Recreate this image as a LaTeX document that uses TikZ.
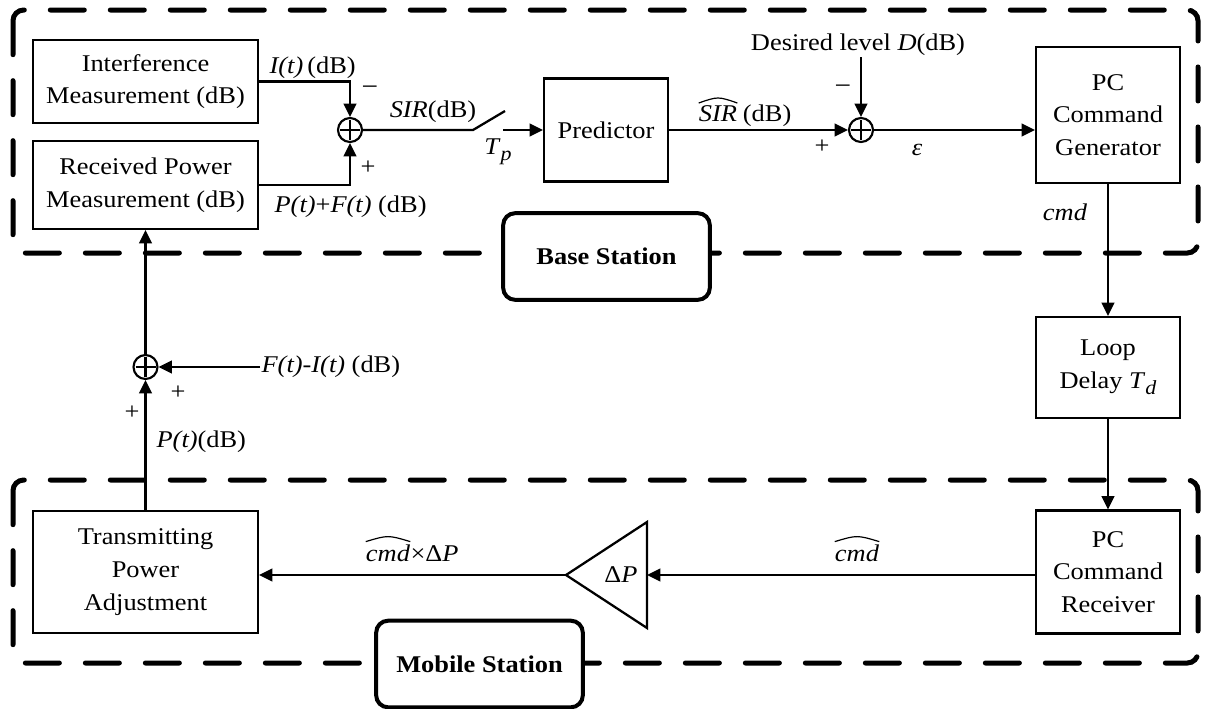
\documentclass[tikz,border=0pt]{standalone}
\usepackage{fontspec}
\setmainfont{Liberation Serif}[FakeStretch=1.1]
\usetikzlibrary{arrows.meta,calc}
\newcommand{\txtsize}{\fontsize{18}{24.5}\selectfont}
\begin{document}
\begin{tikzpicture}[x=0.75pt,y=-0.75pt,
  blk/.style={draw, line width=1.6pt, align=center, inner sep=0pt, font=\txtsize},
  lbl/.style={inner sep=1pt, font=\txtsize},
  word/.style={inner sep=0pt, font=\txtsize},
  tag/.style={draw, line width=3pt, rounded corners=9pt, fill=white,
    font=\txtsize\bfseries, inner sep=0pt, minimum width=155pt, minimum height=65pt},
  zone/.style={line width=3.75pt, dash pattern=on 25.5pt off 19.5pt,
    line cap=round, rounded corners=8pt},
  wire/.style={line width=1.7pt},
  arr/.style={wire, -{Triangle[length=10pt,width=9.5pt]}},
  hatline/.style={line width=0.9pt},
  sumnode/.style={circle, draw, line width=1.6pt, minimum size=18pt, inner sep=0pt,
    path picture={\draw[line width=1.6pt]
      ([yshift=-1.5pt]path picture bounding box.north) -- ([yshift=1.5pt]path picture bounding box.south)
      ([xshift=1.5pt]path picture bounding box.west) -- ([xshift=-1.5pt]path picture bounding box.east);}},
]
\useasboundingbox (0,0) rectangle (1210,708);

% station regions
\draw[zone] (13,10) rectangle (1198,253);
\draw[zone] (13,480) rectangle (1198,663);

% blocks
\node[blk, minimum width=168.75pt, minimum height=62.25pt] (intf) at (145.5,81.5) {Interference\\Measurement (dB)};
\node[blk, minimum width=168.75pt, minimum height=66pt] (recv) at (145.5,185) {Received Power\\Measurement (dB)};
\node[sumnode] (s1) at (350,130) {};
\node[blk, minimum width=93pt, minimum height=77.25pt] (pred) at (606,130) {Predictor};
\node[sumnode] (s2) at (861,130) {};
\node[blk, minimum width=108pt, minimum height=102pt] (gen) at (1108,115) {PC\\Command\\Generator};
\node[blk, minimum width=108pt, minimum height=75.75pt] (dly) at (1108,367.5) {Loop\\Delay \textit{T}\raisebox{-0.55ex}{\fontsize{15}{15}\selectfont\textit{d}}};
\node[blk, minimum width=108pt, minimum height=92.25pt] (rx) at (1108,572) {PC\\Command\\Receiver};
\node[blk, minimum width=168.75pt, minimum height=91.5pt] (tpa) at (145.5,572) {Transmitting\\Power\\Adjustment};
\node[sumnode] (s3) at (145.5,367) {};

% gain triangle
\coordinate (ampL) at (566,575);
\coordinate (ampR) at (647,575);
\draw[wire, line join=miter] (647,522) -- (647,628) -- (ampL) -- cycle;
\node[lbl] (dp) at (621,575) {Δ\textit{P}};

% sampling switch
\coordinate (swA) at (473,130);
\coordinate (swB) at (505,111);
\coordinate (swC) at (503,130);

% signal labels
\node[lbl, anchor=west] at (268,68) {\textit{I(t)}\,(dB)};
\node[lbl] at (370,91) {\fontsize{20}{20}\selectfont −};
\node[lbl] at (368,168) {+};
\node[lbl, anchor=west] at (273,207) {\textit{P(t)}+\textit{F(t)} (dB)};
\node[lbl] at (433,112) {\textit{SIR}(dB)};
\node[lbl] at (498,152) {\textit{T}\raisebox{-0.55ex}{\fontsize{15}{15}\selectfont\textit{p}}};
\node[word] (sirw) at (718,114) {\textit{SIR}};
\node[word, anchor=base west] (sirdb) at ([xshift=4pt]sirw.base east) {(dB)};
\draw[hatline] ([yshift=2pt]sirw.north west) .. controls ([yshift=7pt]sirw.north) .. ([yshift=2pt]sirw.north east);
\node[lbl] at (822,147) {+};
\node[lbl] at (843,90) {\fontsize{20}{20}\selectfont −};
\node[lbl] (des) at (858,45) {Desired level \textit{D}(dB)};
\node[lbl] at (917,150) {\textit{ε}};
\node[lbl] at (1065,212) {\textit{cmd}};
\node[word] (cmdr) at (857,553) {\textit{cmd}};
\draw[hatline] ([yshift=2pt]cmdr.north west) .. controls ([yshift=7pt]cmdr.north) .. ([yshift=2pt]cmdr.north east);
\node[word] (cmdl) at (388,553) {\textit{cmd}};
\node[word, anchor=base west] (cmdx) at (cmdl.base east) {×Δ\textit{P}};
\draw[hatline] ([yshift=2pt]cmdl.north west) .. controls ([yshift=7pt]cmdl.north) .. ([yshift=2pt]cmdl.north east);
\node[lbl, anchor=west] (ft) at (260,367) {\textit{F(t)}-\textit{I(t)} (dB)};
\node[lbl] at (178,393) {+};
\node[lbl] at (132,413) {+};
\node[lbl, anchor=west] at (155,442) {\textit{P(t)}(dB)};

% connectors
\draw[arr] (intf.east) -| (s1.north);
\draw[arr] (recv.east) -| (s1.south);
\draw[wire] (s1.east) -- (swA) -- (swB);
\draw[arr] (swC) -- (pred.west);
\draw[arr] (pred.east) -- (s2.west);
\draw[arr] (s2.north |- des.south) -- (s2.north);
\draw[arr] (s2.east) -- (s2.east -| gen.west);
\draw[arr] (gen.south) -- (dly.north);
\draw[arr] (dly.south) -- (rx.north);
\draw[arr] (rx.west |- ampR) -- (ampR);
\draw[arr] (ampL) -- (tpa.east |- ampL);
\draw[arr] (tpa.north) -- (s3.south);
\draw[arr] (ft.west) -- (s3.east);
\draw[arr] (s3.north) -- (recv.south);

% station tags
\node[tag] at (606.5,256.5) {Base Station};
\node[tag] at (479.5,664) {Mobile Station};
\end{tikzpicture}
\end{document}
